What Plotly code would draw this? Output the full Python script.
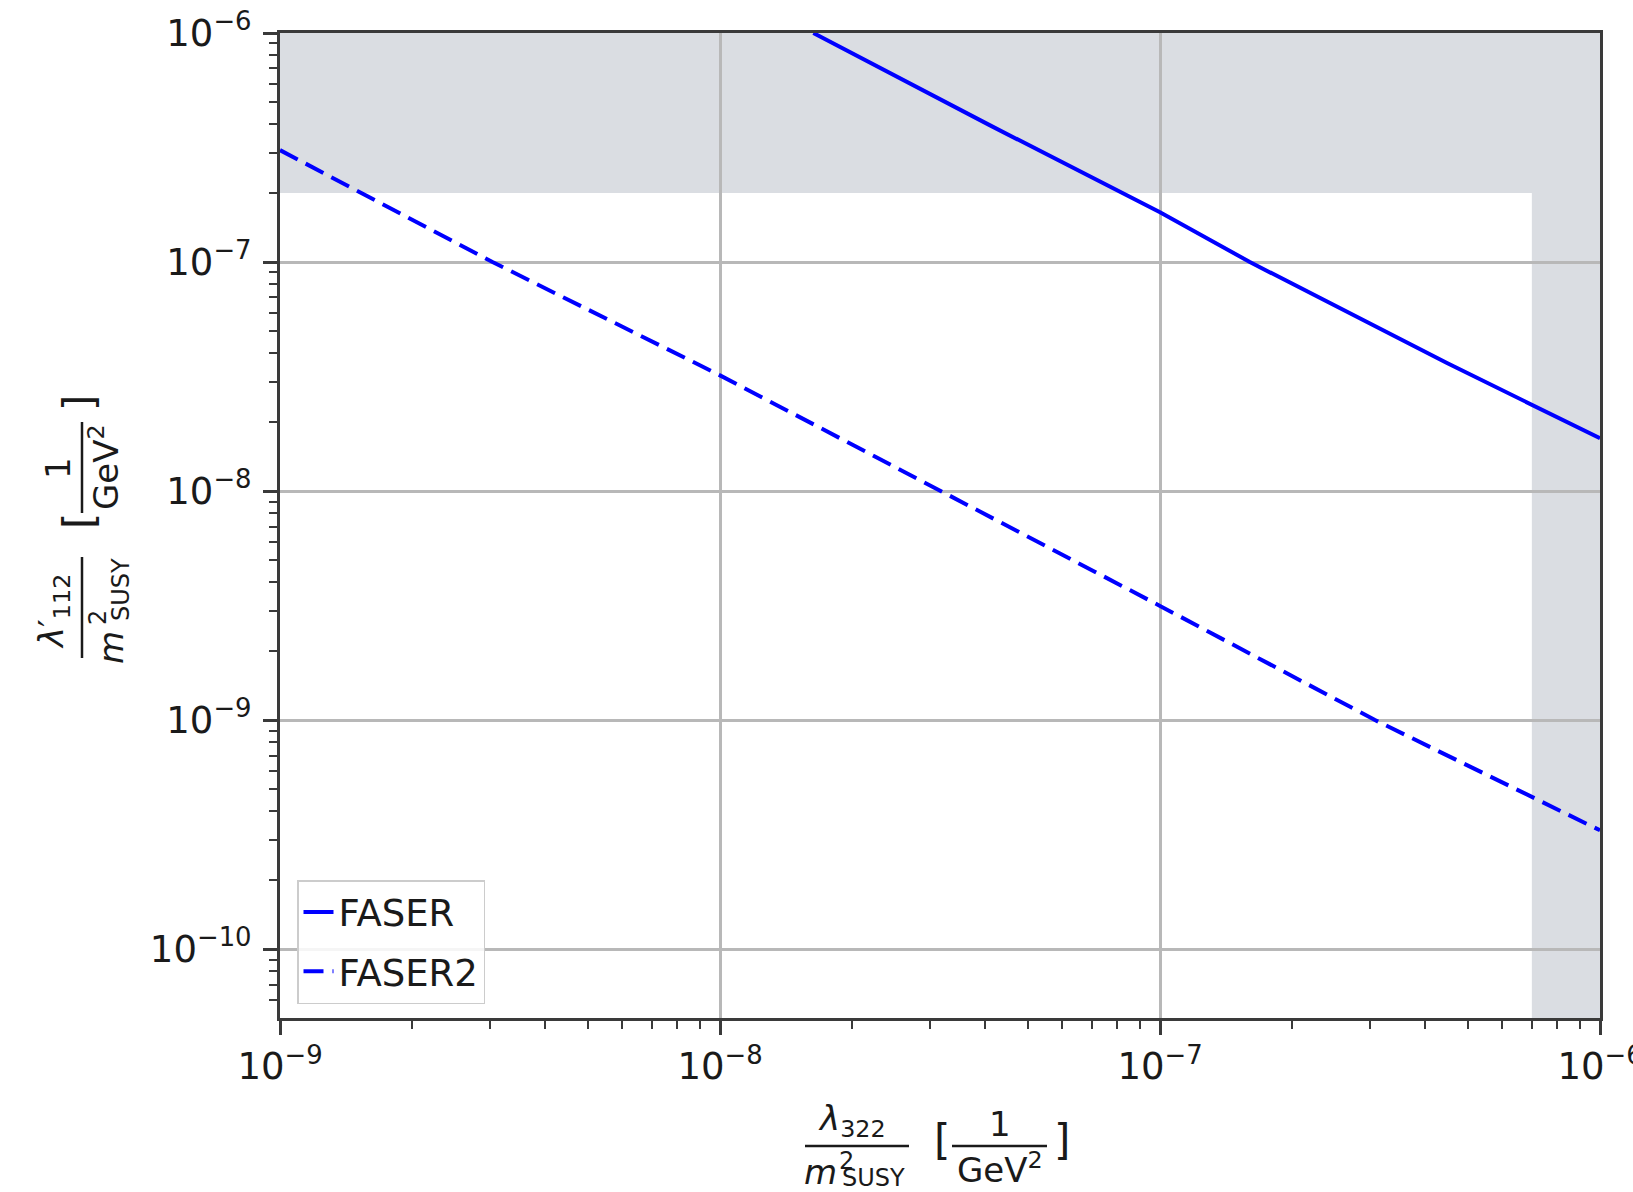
import plotly.graph_objects as go

# ---------------- data ----------------
faser_x = [1.63e-8, 4.1e-8, 1.0e-7, 1.6e-7, 4.49e-7, 1.0e-6]
faser_y = [1.0e-6, 3.96e-7, 1.65e-7, 1.0e-7, 3.62e-8, 1.70e-8]

faser2_x = [1.0e-9, 3.04e-9, 1.0e-8, 1.0e-7, 3.08e-7, 1.0e-6]
faser2_y = [3.08e-7, 1.0e-7, 3.2e-8, 3.15e-9, 1.0e-9, 3.3e-10]

x_min, x_max = 1e-9, 1e-6
y_min, y_max = 5e-11, 1e-6
excl_x = 7e-7      # excluded region: x above this
excl_y = 2e-7      # excluded region: y above this

x_tickvals = [1e-9, 1e-8, 1e-7, 1e-6]
x_ticktext = ["10<sup>−9</sup>", "10<sup>−8</sup>", "10<sup>−7</sup>", "10<sup>−6</sup>"]
y_tickvals = [1e-10, 1e-9, 1e-8, 1e-7, 1e-6]
y_ticktext = ["10<sup>−10</sup>", "10<sup>−9</sup>", "10<sup>−8</sup>", "10<sup>−7</sup>", "10<sup>−6</sup>"]

# ---------------- geometry helpers ----------------
W, H = 1633, 1192
L, R, T, B = 280, 1600, 33, 1018
FONT = "DejaVu Sans"
TXT = "#1a1a1a"
FS = 34
TFS = 37


def px(x):
    return (x - L) / (R - L)


def py(y):
    return (B - y) / (B - T)


minor_x = [k * 10.0 ** e for e in range(-9, -6) for k in range(2, 10)]
minor_y = [k * 10.0 ** e for e in range(-11, -6) for k in range(2, 10)]
minor_y = [v for v in minor_y if y_min <= v <= y_max]

fig = go.Figure()
fig.add_trace(go.Scatter(x=faser_x, y=faser_y, mode="lines", name="FASER",
                         legendgroup="a",
                         line=dict(color="#0000ff", width=4)))
fig.add_trace(go.Scatter(x=faser2_x, y=faser2_y, mode="lines", name="FASER2",
                         legendgroup="b",
                         line=dict(color="#0000ff", width=4, dash="20px,9px")))

gray = "rgb(218,221,226)"
fig.add_shape(type="rect", xref="x", yref="y", x0=x_min, x1=x_max, y0=excl_y, y1=y_max,
              fillcolor=gray, line=dict(width=0), layer="below")
fig.add_shape(type="rect", xref="x", yref="y", x0=excl_x, x1=x_max, y0=y_min, y1=y_max,
              fillcolor=gray, line=dict(width=0), layer="below")

axis_common = dict(
    type="log", showline=True, linecolor="#3a3a3a", linewidth=3, mirror=True,
    ticks="outside", ticklen=14, tickwidth=2.5, tickcolor="#3a3a3a",
    showgrid=True, gridcolor="#b8b8b8", gridwidth=2.5, zeroline=False,
    tickfont=dict(family=FONT, size=TFS, color=TXT), automargin=False,
    ticklabeloverflow="allow",
)

fig.update_xaxes(range=[-9, -6], tickmode="array", tickvals=x_tickvals, ticktext=x_ticktext,
                 minor=dict(tickmode="array", tickvals=minor_x, ticks="outside", ticklen=8,
                            tickwidth=2, tickcolor="#3a3a3a", showgrid=False),
                 **axis_common)
fig.update_yaxes(range=[-10.30103, -6], tickmode="array", tickvals=y_tickvals, ticktext=y_ticktext,
                 ticklabelstandoff=4,
                 minor=dict(tickmode="array", tickvals=minor_y, ticks="outside", ticklen=8,
                            tickwidth=2, tickcolor="#3a3a3a", showgrid=False),
                 **axis_common)

ann = []
shapes = []


def text(x, y, s, size=FS, angle=0, xanchor="center"):
    ann.append(dict(xref="paper", yref="paper", x=px(x), y=py(y), text=s, showarrow=False,
                    xanchor=xanchor, yanchor="middle", textangle=angle,
                    font=dict(family=FONT, size=size, color=TXT)))


def hline(x0, x1, y):
    shapes.append(dict(type="line", xref="paper", yref="paper", x0=px(x0), x1=px(x1),
                       y0=py(y), y1=py(y), line=dict(color=TXT, width=2.5)))


def vline(x, y0, y1):
    shapes.append(dict(type="line", xref="paper", yref="paper", x0=px(x), x1=px(x),
                       y0=py(y0), y1=py(y1), line=dict(color=TXT, width=2.5)))


# x-axis title: λ322 / m²SUSY [1/GeV²]
text(852, 1120, "<i>λ</i><sub>322</sub>")
hline(805, 909, 1146)
text(820, 1172, "<i>m</i>")
text(846, 1161, "2", size=24)
text(840, 1178, "SUSY", size=24, xanchor="left")
text(942, 1140, "[", size=42)
text(1000, 1124, "1")
hline(952, 1047, 1146)
text(1000, 1168, "GeV<sup>2</sup>")
text(1062, 1140, "]", size=42)

# y-axis title (rotated): λ'112 / m²SUSY [1/GeV²]
text(54, 612, "<i>λ</i>′<sub>112</sub>", angle=-90)
vline(82, 557, 658)
text(111, 648, "<i>m</i>", angle=-90)
text(98, 618, "2", size=24, angle=-90)
text(121, 590, "SUSY", size=24, angle=-90)
text(79, 521, "[", size=42, angle=-90)
text(58, 468, "1", angle=-90)
vline(82, 422, 513)
text(104, 467, "GeV<sup>2</sup>", angle=-90)
text(79, 403, "]", size=42, angle=-90)

fig.update_layout(
    width=W, height=H,
    margin=dict(l=L, r=W - R, t=T, b=H - B, autoexpand=False),
    paper_bgcolor="white", plot_bgcolor="white",
    font=dict(family=FONT, size=FS, color=TXT),
    showlegend=True,
    legend=dict(x=px(297), y=py(880), xanchor="left", yanchor="top",
                bgcolor="rgba(255,255,255,0.85)", bordercolor="#cccccc", borderwidth=1.5,
                font=dict(family=FONT, size=TFS, color=TXT), traceorder="grouped",
                tracegroupgap=8),
    annotations=ann, shapes=list(fig.layout.shapes) + shapes,
)

fig.write_html("out.html")
